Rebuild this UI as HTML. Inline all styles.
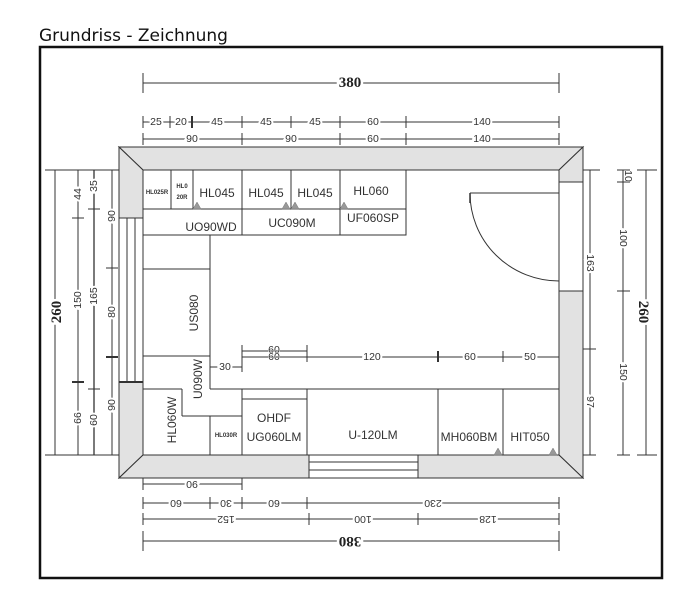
<!DOCTYPE html>
<html><head><meta charset="utf-8"><style>
html,body{margin:0;padding:0;background:#fff;}
svg{display:block;}
.d{font-family:"Liberation Sans",sans-serif;font-size:10.5px;fill:#333;stroke:#fff;stroke-width:4px;paint-order:stroke;text-anchor:middle;dominant-baseline:central;}
.b{font-family:"Liberation Serif",serif;font-size:15px;font-weight:bold;fill:#222;stroke:#fff;stroke-width:5px;paint-order:stroke;text-anchor:middle;dominant-baseline:central;}
.l{font-family:"Liberation Sans",sans-serif;font-size:12px;fill:#333;text-anchor:middle;dominant-baseline:central;}
.t{font-family:"Liberation Sans",sans-serif;font-size:6px;font-weight:bold;fill:#333;text-anchor:middle;dominant-baseline:central;}
</style></head><body>
<svg width="683" height="600" viewBox="0 0 683 600" xmlns="http://www.w3.org/2000/svg">
<text x="39" y="41" font-family="DejaVu Sans,sans-serif" font-size="17" fill="#111">Grundriss - Zeichnung</text>
<rect x="40" y="47" width="622" height="531" fill="none" stroke="#111" stroke-width="2.5"/>

<!-- walls -->
<g fill="#e2e2e2" stroke="#333" stroke-width="1">
<polygon points="119,147 583,147 559,170 143,170"/>
<polygon points="119,147 143,170 143,218 119,218"/>
<polygon points="119,382 143,382 143,455 119,478"/>
<polygon points="583,147 583,182 559,182 559,170"/>
<polygon points="559,291 583,291 583,478 559,455"/>
<polygon points="119,478 143,455 309,455 309,478"/>
<polygon points="418,455 559,455 583,478 418,478"/>
</g>
<g stroke="#333" stroke-width="1" fill="none">
<!-- left window -->
<line x1="119" y1="218" x2="119" y2="382"/><line x1="127" y1="218" x2="127" y2="382"/><line x1="135" y1="218" x2="135" y2="382"/><line x1="143" y1="218" x2="143" y2="382"/>
<line x1="119" y1="382" x2="143" y2="382" stroke-width="2"/>
<!-- bottom window -->
<line x1="309" y1="455" x2="418" y2="455"/><line x1="309" y1="462" x2="418" y2="462"/><line x1="309" y1="470" x2="418" y2="470"/><line x1="309" y1="478" x2="418" y2="478"/>
<line x1="309" y1="455" x2="309" y2="478"/><line x1="418" y1="455" x2="418" y2="478"/>
<!-- right door opening -->
<line x1="559" y1="182" x2="559" y2="291"/><line x1="583" y1="182" x2="583" y2="291"/>
<line x1="470" y1="193" x2="559" y2="193"/>
<line x1="470" y1="193" x2="470" y2="203" stroke-width="1.5"/>
<path d="M470,193 A89,88 0 0 0 559,281"/>

<!-- top cabinets -->
<rect x="143" y="170" width="263" height="65"/>
<line x1="143" y1="209" x2="406" y2="209"/>
<line x1="171" y1="170" x2="171" y2="209"/><line x1="193" y1="170" x2="193" y2="209"/>
<line x1="242" y1="170" x2="242" y2="235"/><line x1="291" y1="170" x2="291" y2="209"/><line x1="340" y1="170" x2="340" y2="235"/>
<!-- left column -->
<line x1="210" y1="235" x2="210" y2="389"/>
<line x1="143" y1="269" x2="210" y2="269"/>
<line x1="143" y1="356" x2="210" y2="356"/>
<line x1="210" y1="389" x2="559" y2="389"/>
<line x1="143" y1="389" x2="182" y2="389"/>
<line x1="182" y1="389" x2="182" y2="416"/><line x1="182" y1="416" x2="242" y2="416"/>
<line x1="210" y1="416" x2="210" y2="455"/>
<line x1="242" y1="389" x2="242" y2="455"/>
<line x1="242" y1="399" x2="307" y2="399"/>
<line x1="307" y1="389" x2="307" y2="455"/>
<line x1="438" y1="389" x2="438" y2="455"/>
<line x1="503" y1="389" x2="503" y2="455"/>

<!-- inner dims -->
<line x1="210" y1="367" x2="242" y2="367"/>
<line x1="242" y1="345" x2="242" y2="372"/>
<line x1="242" y1="351" x2="307" y2="351"/><line x1="242" y1="357" x2="559" y2="357"/>
<line x1="307" y1="345" x2="307" y2="362"/>
<line x1="438" y1="351" x2="438" y2="362" stroke-width="2"/>
<line x1="503" y1="351" x2="503" y2="362"/>
</g>
<g fill="#999" stroke="#777" stroke-width="0.5">
<polygon points="193,209 197,202 201,209"/>
<polygon points="282,209 286,202 290,209"/><polygon points="291,209 295,202 299,209"/>
<polygon points="340,209 344,202 348,209"/>
<polygon points="494,455 498,448 502,455"/><polygon points="549,455 553,448 557,455"/>
</g>
<text class="d" x="225" y="367">30</text>
<text class="d" x="274" y="350" style="stroke-width:1">60</text>
<text class="d" x="274" y="357" style="stroke-width:1">60</text>
<text class="d" x="372" y="357">120</text>
<text class="d" x="470" y="357">60</text>
<text class="d" x="530" y="357">50</text>

<!-- labels -->
<text class="t" x="157" y="193">HL025R</text>
<text class="t" x="182" y="187">HL0</text><text class="t" x="182" y="198">20R</text>
<text class="l" x="217" y="193">HL045</text>
<text class="l" x="266" y="193">HL045</text>
<text class="l" x="315" y="193">HL045</text>
<text class="l" x="371" y="191">HL060</text>
<text class="l" x="211" y="227">UO90WD</text>
<text class="l" x="292" y="223">UC090M</text>
<text class="l" x="373" y="218">UF060SP</text>
<text class="l" transform="translate(194,313) rotate(-90)">US080</text>
<text class="l" transform="translate(198,379) rotate(-90)">U090W</text>
<text class="l" transform="translate(172,420) rotate(-90)">HL060W</text>
<text class="t" x="226" y="436">HL030R</text>
<text class="l" x="274" y="418">OHDF</text>
<text class="l" x="274" y="437">UG060LM</text>
<text class="l" x="373" y="435">U-120LM</text>
<text class="l" x="469" y="437">MH060BM</text>
<text class="l" x="530" y="437">HIT050</text>

<!-- top dims -->
<g stroke="#333" stroke-width="1">
<line x1="143" y1="83" x2="559" y2="83"/><line x1="143" y1="73" x2="143" y2="93"/><line x1="559" y1="73" x2="559" y2="93"/>
<line x1="143" y1="122" x2="559" y2="122"/>
<line x1="143" y1="116" x2="143" y2="128"/><line x1="170" y1="116" x2="170" y2="128"/><line x1="192" y1="116" x2="192" y2="128" stroke-width="2"/><line x1="242" y1="116" x2="242" y2="128"/><line x1="291" y1="116" x2="291" y2="128"/><line x1="340" y1="116" x2="340" y2="128"/><line x1="406" y1="116" x2="406" y2="128"/><line x1="559" y1="116" x2="559" y2="128"/>
<line x1="143" y1="139" x2="559" y2="139"/>
<line x1="143" y1="133" x2="143" y2="145"/><line x1="242" y1="133" x2="242" y2="145"/><line x1="340" y1="133" x2="340" y2="145"/><line x1="406" y1="133" x2="406" y2="145"/><line x1="559" y1="133" x2="559" y2="145"/>
</g>
<text class="b" x="350" y="83">380</text>
<text class="d" x="156" y="122">25</text><text class="d" x="181" y="122">20</text><text class="d" x="217" y="122">45</text><text class="d" x="266" y="122">45</text><text class="d" x="315" y="122">45</text><text class="d" x="373" y="122">60</text><text class="d" x="482" y="122">140</text>
<text class="d" x="192" y="139">90</text><text class="d" x="291" y="139">90</text><text class="d" x="373" y="139">60</text><text class="d" x="482" y="139">140</text>

<!-- left dims -->
<g stroke="#333" stroke-width="1">
<line x1="55" y1="170" x2="55" y2="455"/><line x1="45" y1="170" x2="119" y2="170"/><line x1="45" y1="455" x2="119" y2="455"/>
<line x1="78" y1="170" x2="78" y2="455"/><line x1="72" y1="218" x2="84" y2="218"/><line x1="72" y1="382" x2="84" y2="382" stroke-width="2"/>
<line x1="94" y1="170" x2="94" y2="455" stroke-width="1.3"/><line x1="88" y1="209" x2="100" y2="209"/><line x1="88" y1="389" x2="100" y2="389"/>
<line x1="112" y1="170" x2="112" y2="455"/><line x1="106" y1="268" x2="118" y2="268"/><line x1="106" y1="357" x2="118" y2="357" stroke-width="2"/>
</g>
<text class="b" transform="translate(57,312) rotate(-90)">260</text>
<text class="d" transform="translate(78,194) rotate(-90)">44</text>
<text class="d" transform="translate(78,300) rotate(-90)">150</text>
<text class="d" transform="translate(78,418) rotate(-90)">66</text>
<text class="d" transform="translate(94,186) rotate(-90)">35</text>
<text class="d" transform="translate(94,296) rotate(-90)">165</text>
<text class="d" transform="translate(94,420) rotate(-90)">60</text>
<text class="d" transform="translate(112,216) rotate(-90)">90</text>
<text class="d" transform="translate(112,312) rotate(-90)">80</text>
<text class="d" transform="translate(112,405) rotate(-90)">90</text>

<!-- right dims -->
<g stroke="#333" stroke-width="1">
<line x1="590" y1="170" x2="590" y2="455"/><line x1="583" y1="170" x2="600" y2="170"/><line x1="583" y1="349" x2="596" y2="349"/><line x1="583" y1="455" x2="596" y2="455"/>
<line x1="623" y1="170" x2="623" y2="455"/><line x1="617" y1="170" x2="630" y2="170"/><line x1="617" y1="182" x2="630" y2="182"/><line x1="617" y1="291" x2="630" y2="291"/><line x1="617" y1="455" x2="630" y2="455"/>
<line x1="646" y1="170" x2="646" y2="455"/><line x1="637" y1="170" x2="657" y2="170"/><line x1="637" y1="455" x2="657" y2="455"/>
</g>
<text class="d" transform="translate(590,263) rotate(90)">163</text>
<text class="d" transform="translate(590,402) rotate(90)">97</text>
<text class="d" transform="translate(628,176) rotate(90)" style="stroke-width:1">10</text>
<text class="d" transform="translate(623,238) rotate(90)">100</text>
<text class="d" transform="translate(623,372) rotate(90)">150</text>
<text class="b" transform="translate(643,312) rotate(90)">260</text>

<!-- bottom dims -->
<g stroke="#333" stroke-width="1">
<line x1="143" y1="484" x2="242" y2="484"/><line x1="143" y1="478" x2="143" y2="490"/><line x1="242" y1="478" x2="242" y2="490"/>
<line x1="143" y1="503" x2="559" y2="503"/>
<line x1="143" y1="497" x2="143" y2="509"/><line x1="210" y1="497" x2="210" y2="509"/><line x1="242" y1="497" x2="242" y2="509"/><line x1="307" y1="497" x2="307" y2="509"/><line x1="559" y1="497" x2="559" y2="509"/>
<line x1="143" y1="519" x2="559" y2="519"/>
<line x1="143" y1="513" x2="143" y2="525"/><line x1="309" y1="513" x2="309" y2="525"/><line x1="418" y1="513" x2="418" y2="525"/><line x1="559" y1="513" x2="559" y2="525"/>
<line x1="143" y1="541" x2="559" y2="541"/><line x1="143" y1="531" x2="143" y2="551"/><line x1="559" y1="531" x2="559" y2="551"/>
</g>
<text class="d" transform="translate(192,484) rotate(180)">90</text>
<text class="d" transform="translate(176,503) rotate(180)">60</text>
<text class="d" transform="translate(226,503) rotate(180)">30</text>
<text class="d" transform="translate(274,503) rotate(180)">60</text>
<text class="d" transform="translate(433,503) rotate(180)">230</text>
<text class="d" transform="translate(226,519) rotate(180)">152</text>
<text class="d" transform="translate(363,519) rotate(180)">100</text>
<text class="d" transform="translate(488,519) rotate(180)">128</text>
<text class="b" transform="translate(350,541) rotate(180)">380</text>
</svg>
</body></html>
